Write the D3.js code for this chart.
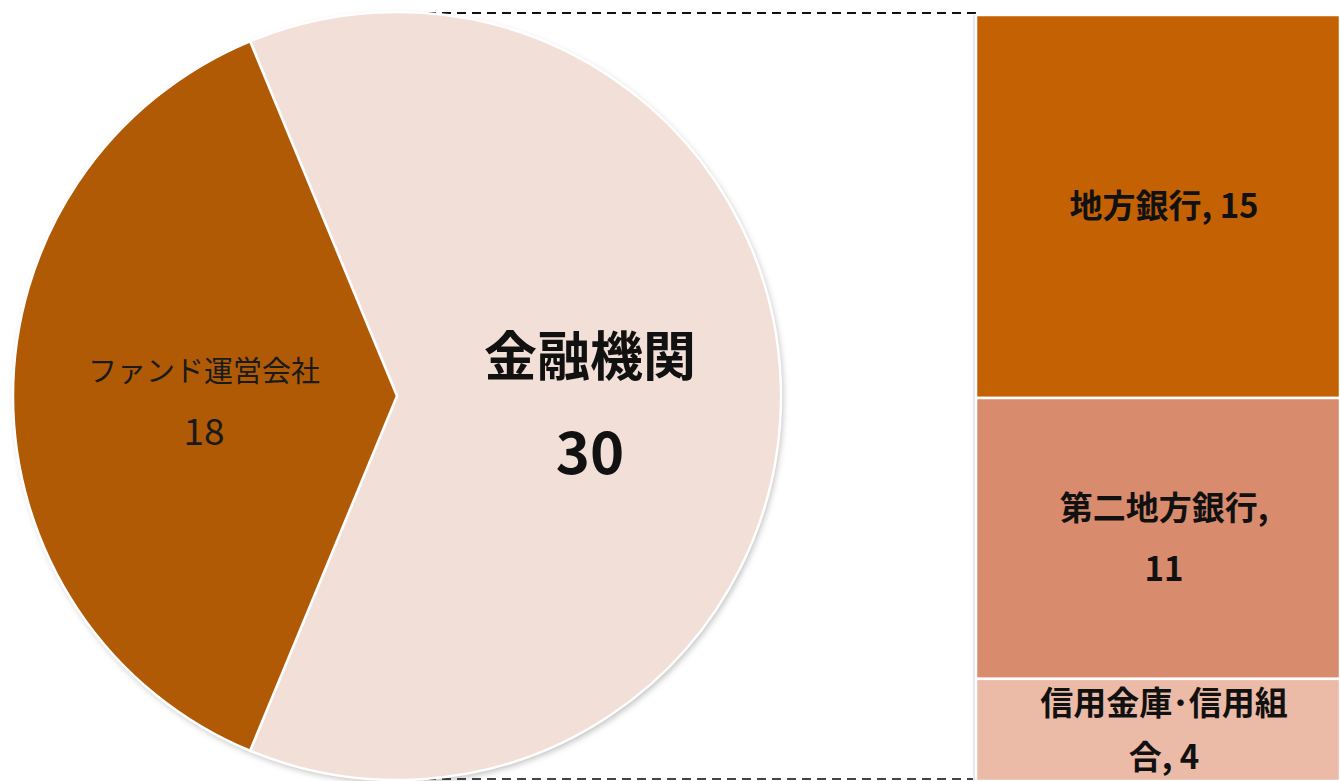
<!DOCTYPE html>
<html>
<head>
<meta charset="utf-8">
<script src="https://cdn.jsdelivr.net/npm/d3@7"></script>
<style>
  html, body { margin: 0; padding: 0; background: #ffffff; }
  svg { display: block; }
</style>
</head>
<body>
<svg id="chart" width="1340" height="781"></svg>
<script>
// ---- data ----
const mainCategories = ["金融機関", "ファンド運営会社"];
const mainValues = [30, 18];
const subCategories = ["地方銀行", "第二地方銀行", "信用金庫･信用組合"];
const subValues = [15, 11, 4];
// character index at which each "category, value" label wraps (-1 = no wrap)
const subLabelBreaks = [-1, 7, 8];

// ---- styles ----
const mainColors = ["#F2DFD8", "#B05A06"];
const subColors = ["#C46103", "#D98B6D", "#ECBBA8"];
const W = 1340, H = 781;
const svg = d3.select("#chart");
const font = "'Noto Sans CJK JP', 'Noto Sans', sans-serif";

const cx = 397, cy = 396, R = 384;
const barX0 = 976, barX1 = 1340;

const subTotal = d3.sum(subValues);
const y = d3.scaleLinear().domain([0, subTotal]).range([15, 781]);

const defs = svg.append("defs");
const f = defs.append("filter").attr("id", "shadow").attr("x", "-10%").attr("y", "-10%").attr("width", "120%").attr("height", "120%");
f.append("feDropShadow").attr("dx", 2).attr("dy", 3).attr("stdDeviation", 3).attr("flood-color", "#000").attr("flood-opacity", 0.25);

// connector dashed lines
svg.append("line")
  .attr("x1", cx).attr("x2", barX0).attr("y1", y(0) - 2).attr("y2", y(0) - 2)
  .attr("stroke", "#111").attr("stroke-width", 2).attr("stroke-dasharray", "9,6");
svg.append("line")
  .attr("x1", cx).attr("x2", barX0).attr("y1", 779).attr("y2", 779)
  .attr("stroke", "#444").attr("stroke-width", 2).attr("stroke-dasharray", "9,6");

// ---- pie ----
const mainData = mainCategories.map((c, i) => ({ cat: c, value: mainValues[i], color: mainColors[i] }));
const fundShare = mainValues[1] / d3.sum(mainValues);
const startA = -(Math.PI - Math.PI * 2 * fundShare) / 2;
const pie = d3.pie().sort(null).value(d => d.value)
  .startAngle(startA).endAngle(startA + 2 * Math.PI);
const arcs = pie(mainData);
const arc = d3.arc().innerRadius(0).outerRadius(R);

const pg = svg.append("g").attr("transform", `translate(${cx},${cy})`);
pg.append("circle").attr("r", R).attr("fill", "#fff").attr("filter", "url(#shadow)");
pg.selectAll("path.slice").data(arcs).join("path")
  .attr("class", "slice")
  .attr("d", arc)
  .attr("fill", d => d.data.color)
  .attr("stroke", "#ffffff").attr("stroke-width", 2.5);

const labelMain = pg.append("g").attr("font-family", font).attr("text-anchor", "middle").attr("fill", "#111");
labelMain.append("text")
  .attr("x", 590 - cx).attr("y", 357 - cy).attr("dy", "0.36em")
  .attr("font-size", 53).attr("font-weight", "bold").text(mainCategories[0]);
labelMain.append("text")
  .attr("x", 590 - cx).attr("y", 453 - cy).attr("dy", "0.36em")
  .attr("font-size", 58).attr("font-weight", "bold").text(mainValues[0]);
labelMain.append("text")
  .attr("x", 204 - cx).attr("y", 372 - cy).attr("dy", "0.36em")
  .attr("font-size", 29).attr("fill", "#1a1a1a").text(mainCategories[1]);
labelMain.append("text")
  .attr("x", 204 - cx).attr("y", 432 - cy).attr("dy", "0.36em")
  .attr("font-size", 37).attr("fill", "#1a1a1a").text(mainValues[1]);

// ---- stacked bar ----
let acc = 0;
const subData = subCategories.map((c, i) => {
  const d = { cat: c, value: subValues[i], y0: acc, y1: acc + subValues[i], color: subColors[i], brk: subLabelBreaks[i] };
  acc += subValues[i];
  return d;
});
const bg = svg.append("g");
bg.selectAll("rect").data(subData).join("rect")
  .attr("x", barX0).attr("width", barX1 - barX0)
  .attr("y", d => y(d.y0)).attr("height", d => y(d.y1) - y(d.y0))
  .attr("fill", d => d.color)
  .attr("stroke", "#ffffff").attr("stroke-width", 2.5);
bg.append("line").attr("x1", barX0 - 2).attr("x2", barX0 - 2).attr("y1", y(0)).attr("y2", H)
  .attr("stroke", "#e4e8ee").attr("stroke-width", 2);

const lineGap = [0, 61, 54];
subData.forEach((d, i) => {
  const label = d.cat + ", " + d.value;
  const lines = d.brk < 0 ? [label] : [label.slice(0, d.brk).trim(), label.slice(d.brk).trim()];
  const mid = (y(d.y0) + y(d.y1)) / 2;
  const gap = lineGap[i] || 56;
  const t = bg.append("text").attr("font-family", font).attr("font-weight", "bold")
    .attr("font-size", 33).attr("fill", "#111").attr("text-anchor", "middle");
  lines.forEach((ln, j) => {
    t.append("tspan").attr("x", (barX0 + barX1) / 2 + 6)
      .attr("y", mid + (j - (lines.length - 1) / 2) * gap)
      .attr("dy", "0.36em").text(ln);
  });
});
</script>
</body>
</html>
